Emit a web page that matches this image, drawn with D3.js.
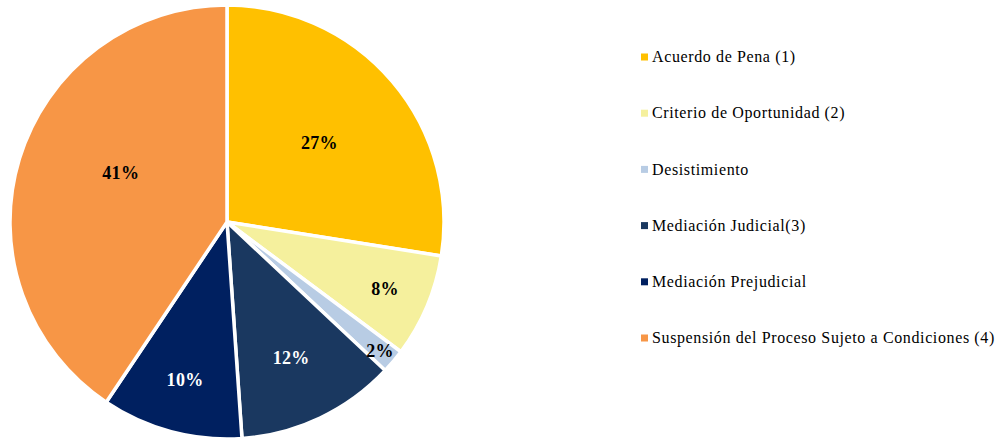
<!DOCTYPE html>
<html lang="es">
<head>
<meta charset="utf-8">
<title>Salidas alternativas</title>
<script src="https://d3js.org/d3.v7.min.js"></script>
<style>
body {
  margin: 0;
  background: #fff;
  font-family: "Liberation Serif", "DejaVu Serif", serif;
}
.legend text {
  font-size: 16px;
  letter-spacing: 0.62px;
  fill: #000;
}
.pct {
  font-size: 18px;
  font-weight: bold;
  letter-spacing: 0.3px;
}
</style>
</head>
<body>
<svg width="1001" height="439"></svg>
<script>

var categories = [
  "Acuerdo de Pena (1)",
  "Criterio de Oportunidad (2)",
  "Desistimiento",
  "Mediación Judicial(3)",
  "Mediación Prejudicial",
  "Suspensión del Proceso Sujeto a Condiciones (4)"
];
var shares = [27.5, 7.7, 1.8, 11.9, 10.5, 40.6];
var pctLabels = ["27%", "8%", "2%", "12%", "10%", "41%"];

var colors = ["#FFC000", "#F5F09D", "#B8CCE4", "#1A3860", "#002060", "#F79646"];
var labelColors = ["#000", "#000", "#000", "#fff", "#fff", "#000"];
// where each label sits: share of the radius, and turn off the mid angle (degrees)
var labelPos = [0.56, 0.79, 0.92, 0.69, 0.75, 0.54];
var labelTurn = [0, 0, 0, 0, 0, 8];

var svg = d3.select("svg"),
    cx = 227,
    cy = 222,
    radius = 217;

var pie = d3.pie()
    .sort(null)
    .value(function(d) { return d; });

var arc = d3.arc()
    .innerRadius(0)
    .outerRadius(radius);

var g = svg.append("g")
    .attr("transform", "translate(" + cx + "," + cy + ")");

var arcs = pie(shares);

g.append("g")
  .selectAll("path")
  .data(arcs)
  .enter().append("path")
    .attr("d", arc)
    .style("fill", function(d, i) { return colors[i]; })
    .style("stroke", "#fff")
    .style("stroke-width", 3.5)
    .style("stroke-linejoin", "miter");

// labels go on top of every slice
g.append("g")
  .selectAll("text")
  .data(arcs)
  .enter().append("text")
    .attr("class", "pct")
    .attr("transform", function(d, i) {
      var a = (d.startAngle + d.endAngle) / 2 + labelTurn[i] * Math.PI / 180,
          r = radius * labelPos[i];
      return "translate(" + (Math.sin(a) * r) + "," + (-Math.cos(a) * r) + ")";
    })
    .attr("text-anchor", "middle")
    .attr("dy", "0.35em")
    .style("fill", function(d, i) { return labelColors[i]; })
    .text(function(d, i) { return pctLabels[i]; });

// legend
var legendY = d3.scalePoint()
    .domain(categories)
    .range([57, 338]);

var legend = svg.append("g")
    .attr("class", "legend")
  .selectAll("g")
  .data(categories)
  .enter().append("g")
    .attr("transform", function(d) { return "translate(641," + legendY(d) + ")"; });

legend.append("rect")
    .attr("x", 0)
    .attr("y", -3.5)
    .attr("width", 7)
    .attr("height", 7)
    .style("fill", function(d, i) { return colors[i]; });

legend.append("text")
    .attr("x", 11)
    .attr("dy", "0.33em")
    .text(function(d) { return d; });

</script>
</body>
</html>
